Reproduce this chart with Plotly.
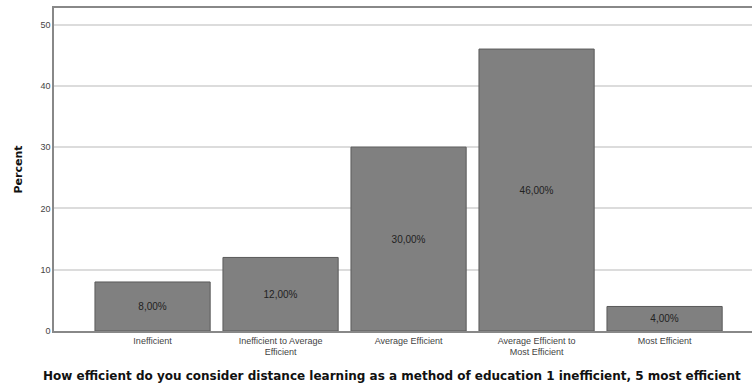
import plotly.graph_objects as go

categories = ["Inefficient", "Inefficient to Average<br>Efficient", "Average Efficient",
              "Average Efficient to<br>Most Efficient", "Most Efficient"]
percent = [8.0, 12.0, 30.0, 46.0, 4.0]
labels = ["8,00%", "12,00%", "30,00%", "46,00%", "4,00%"]
x_title = "How efficient do you consider distance learning as a method of education 1 inefficient, 5 most efficient"

fig = go.Figure(go.Bar(
    x=list(range(len(categories))), y=percent, text=labels,
    textposition="inside", insidetextanchor="middle",
    textfont=dict(family="Arial, Liberation Sans", size=10, color="#222"),
    marker=dict(color="#808080", line=dict(color="#5a5a5a", width=1)),
    width=0.9,
))

fig.update_layout(
    width=752, height=387,
    margin=dict(l=54, r=0, t=8, b=56),
    plot_bgcolor="white", paper_bgcolor="white",
    showlegend=False,
    font=dict(family="Arial, Liberation Sans", color="#444"),
    annotations=[dict(
        text="<b>" + x_title + "</b>", xref="paper", yref="paper",
        x=0.484, y=0, yshift=-45, xanchor="center", yanchor="middle", showarrow=False,
        font=dict(family="DejaVu Sans", size=12, color="#111"),
    )],
)
fig.update_xaxes(
    tickmode="array", tickvals=list(range(len(categories))), ticktext=categories,
    range=[-0.77, 4.683], showgrid=False, ticks="",
    tickfont=dict(size=9, color="#444"),
    showline=True, linecolor="#888", linewidth=1.5, mirror=True,
    zeroline=False,
)
fig.update_yaxes(
    range=[0, 52.7], tickvals=[0, 10, 20, 30, 40, 50],
    showgrid=True, gridcolor="#dcdcdc", gridwidth=1.5,
    tickfont=dict(size=9, color="#444"), ticks="",
    showline=True, linecolor="#888", linewidth=1.5, mirror=False,
    title=dict(text="<b>Percent</b>", font=dict(family="DejaVu Sans", size=11, color="#111"), standoff=16),
    zeroline=False,
)

fig.write_html("out.html")
